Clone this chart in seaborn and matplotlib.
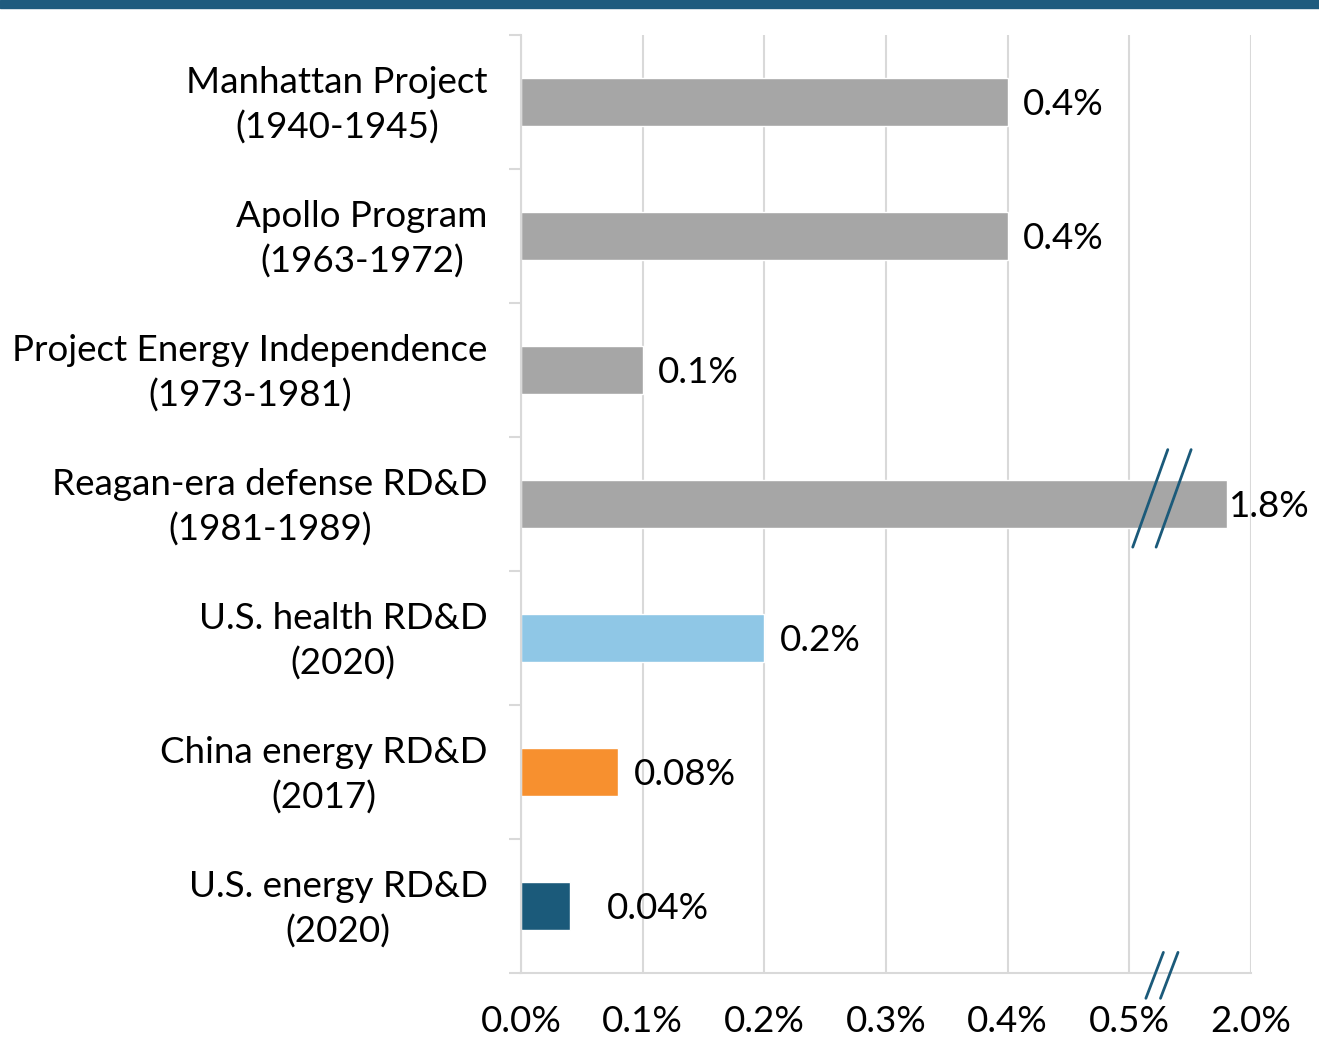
import numpy as np
import matplotlib
matplotlib.use("Agg")
import matplotlib.pyplot as plt
from matplotlib.patches import Rectangle
from matplotlib.transforms import ScaledTranslation
import seaborn as sns

# data
programs = ["Manhattan Project\n(1940-1945)",
            "Apollo Program\n(1963-1972)",
            "Project Energy Independence\n(1973-1981)",
            "Reagan-era defense RD&D\n(1981-1989)",
            "U.S. health RD&D\n(2020)",
            "China energy RD&D\n(2017)",
            "U.S. energy RD&D\n(2020)"]
share_gdp = [0.4, 0.4, 0.1, 1.8, 0.2, 0.08, 0.04]
bar_colors = ["#a6a6a6", "#a6a6a6", "#a6a6a6", "#a6a6a6",
              "#8fc7e6", "#f7902f", "#1b5a7a"]
x_ticks = [0.0, 0.1, 0.2, 0.3, 0.4, 0.5, 2.0]

sns.set_style("white")
plt.rcParams['font.family'] = ['Lato', 'DejaVu Sans']
plt.rcParams['text.color'] = 'black'
plt.rcParams['xtick.color'] = 'black'
plt.rcParams['ytick.color'] = 'black'
FS = 26.5    # category labels
FS_NUM = 26.5  # tick and value labels
GRID = "#d9d9d9"
DARK = "#1b5a7a"

# broken axis: everything above 0.5% is squeezed into the last tick interval
knots_in = [-1.0, 0.5, 1.8, 2.0, 10.0]
knots_out = [-1.0, 0.5, 0.58, 0.6, 1.4]
def fwd(x):
    return np.interp(x, knots_in, knots_out)
def inv(y):
    return np.interp(y, knots_out, knots_in)

fig = plt.figure(figsize=(13.19, 10.40), dpi=100)
ax = fig.add_axes([521/1319, 1-973/1040, 730/1319, 938/1040])
ax.set_xscale('function', functions=(fwd, inv))

df_colors = dict(zip(programs, bar_colors))
sns.barplot(x=share_gdp, y=programs, hue=programs, palette=df_colors,
            orient='h', width=0.36, legend=False, saturation=1, ax=ax, zorder=2)

ax.set_xlim(0, 2.0)
ax.set_ylim(6.5, -0.5)
ax.set_xticks(x_ticks)
ax.set_xticklabels([f"{t:.1f}%" for t in x_ticks], fontsize=FS_NUM)
ax.set_xlabel("")
ax.set_ylabel("")

ax.grid(axis='x', color=GRID, lw=1.5, zorder=0)
ax.grid(axis='y', visible=False)
ax.set_axisbelow(True)
for s in ["top", "right"]:
    ax.spines[s].set_visible(False)
for s in ["left", "bottom"]:
    ax.spines[s].set_color(GRID)
    ax.spines[s].set_linewidth(1.5)

ax.tick_params(axis='x', length=9, width=1.5, color=GRID, labelcolor='black',
               pad=14, labelsize=FS_NUM)
ax.set_yticks(np.arange(-0.5, 7, 1), minor=True)
ax.tick_params(axis='y', which='minor', length=8.5, width=1.5, color=GRID, left=True)
ax.tick_params(axis='y', which='major', length=0, pad=24, labelsize=FS, labelcolor='black')
nudge = ScaledTranslation(0, 5/100, fig.dpi_scale_trans)
for lbl in ax.get_yticklabels():
    lbl.set_multialignment('center')
    lbl.set_linespacing(1.38)
    lbl.set_transform(lbl.get_transform() + nudge)

# value labels
offsets = {0.04: 27, 1.8: 2}
for i, v in enumerate(share_gdp):
    ax.annotate(f"{v:g}%", xy=(v, i), xytext=(offsets.get(v, 11), -2),
                textcoords='offset points', va='center', ha='left',
                fontsize=FS_NUM, color='black', annotation_clip=False)

# break marks on the long bar and on the axis
for cx in (0.862, 0.894):
    ax.plot([cx - 0.024, cx + 0.024], [0.506 - 0.052, 0.506 + 0.052],
            transform=ax.transAxes, color=DARK, lw=2, clip_on=False, zorder=5)
for cx in (0.868, 0.888):
    ax.plot([cx - 0.012, cx + 0.012], [-0.027, 0.022],
            transform=ax.transAxes, color=DARK, lw=2, clip_on=False, zorder=5)

# banner across the top
fig.patches.append(Rectangle((0, 1 - 8/1040), 1, 8/1040, transform=fig.transFigure,
                             color="#1f5b7e", zorder=10))

fig.savefig("out.png", dpi=100)
